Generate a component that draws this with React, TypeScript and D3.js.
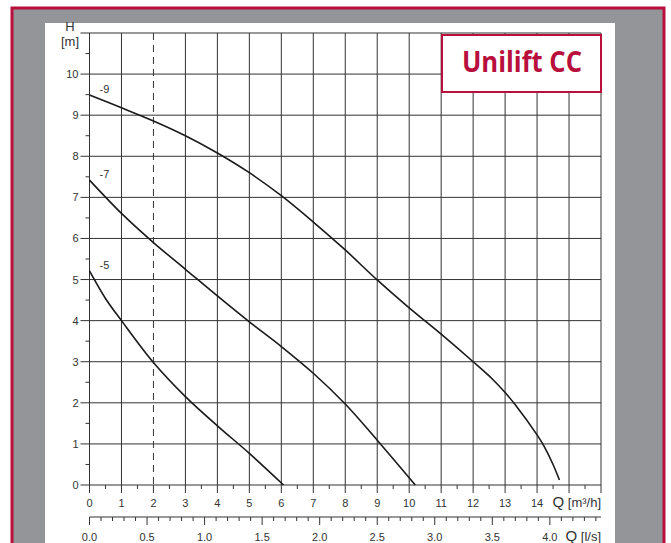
import React from "react";
import * as d3 from "d3";

// pump curves: Q in m3/h, H in m
const curve9Q = [0, 1, 2, 3, 4, 5, 6, 7, 8, 9, 10, 11, 12, 12.6, 13, 13.3, 14, 14.2, 14.5, 14.7];
const curve9H = [9.49, 9.18, 8.86, 8.5, 8.08, 7.6, 7.04, 6.4, 5.72, 4.99, 4.31, 3.67, 3.0, 2.58, 2.25, 1.97, 1.22, 0.97, 0.5, 0.12];
const curve7Q = [0, 1, 2, 3, 4, 5, 6, 7, 8, 9, 10.19];
const curve7H = [7.42, 6.61, 5.9, 5.25, 4.6, 3.97, 3.37, 2.72, 1.97, 1.09, 0];
const curve5Q = [0, 0.5, 1, 2, 3, 4, 5, 6.07];
const curve5H = [5.21, 4.54, 4.0, 2.98, 2.15, 1.44, 0.77, 0];

const curveNames = ["-9", "-7", "-5"];
const qTickLabels = [0, 1, 2, 3, 4, 5, 6, 7, 8, 9, 10, 11, 12, 13, 14];
const hTickLabels = [0, 1, 2, 3, 4, 5, 6, 7, 8, 9, 10];
const lsTickLabels = ["0.0", "0.5", "1.0", "1.5", "2.0", "2.5", "3.0", "3.5", "4.0"];
const dashedQ = 2;

const RED = "#b80f3d";
const GREY = "#939598";
const INK = "#333";

export default function App() {
  const width = 671, height = 543;
  const margin = { top: 33, right: 70, bottom: 58, left: 89.5 };

  const x = d3.scaleLinear().domain([0, 16]).range([margin.left, width - margin.right]);
  const y = d3.scaleLinear().domain([0, 11]).range([height - margin.bottom, margin.top]);
  // l/s axis shares the same pixels: 1 l/s = 3.6 m3/h
  const xls = d3.scaleLinear().domain([0, 16 / 3.6]).range(x.range());

  const line = d3
    .line<[number, number]>()
    .x(d => x(d[0]))
    .y(d => y(d[1]))
    .curve(d3.curveCatmullRom.alpha(0.5));

  const series = [
    curve9Q.map((q, i) => [q, curve9H[i]] as [number, number]),
    curve7Q.map((q, i) => [q, curve7H[i]] as [number, number]),
    curve5Q.map((q, i) => [q, curve5H[i]] as [number, number]),
  ];

  const x0 = x(0), x1 = x(16), y0 = y(0), y1 = y(11);
  const lsY = 517;

  const font = "'Liberation Sans', Arial, sans-serif";

  return (
    <svg width={width} height={height} style={{ display: "block", position: "absolute", left: 0, top: 0 }}>
      {/* frame */}
      <rect x={0} y={0} width={width} height={height} fill="#fff" />
      <rect x={12} y={8} width={652} height={560} fill={GREY} stroke={RED} strokeWidth={3} />
      <rect x={45} y={23} width={570} height={540} fill="#fff" />

      {/* grid */}
      <g stroke={INK} strokeWidth={1}>
        {d3.range(1, 17).filter(q => q !== dashedQ).map(q => (
          <line key={"v" + q} x1={x(q)} x2={x(q)} y1={y1} y2={y0} />
        ))}
        {d3.range(1, 12).map(h => (
          <line key={"h" + h} x1={x0 - 9} x2={x1} y1={y(h)} y2={y(h)} />
        ))}
        <line x1={x(dashedQ)} x2={x(dashedQ)} y1={y1} y2={y0} strokeDasharray="7,5" />
        {/* axes */}
        <line x1={x0} x2={x0} y1={y1} y2={y0 + 8} />
        <line x1={x0 - 9} x2={x1} y1={y0} y2={y0} />
        {/* minor ticks */}
        {d3.range(0.5, 11, 1).map(h => (
          <line key={"mh" + h} x1={x0 - 4} x2={x0} y1={y(h)} y2={y(h)} />
        ))}
        {d3.range(1, 17).map(q => (
          <line key={"mq" + q} x1={x(q)} x2={x(q)} y1={y0} y2={y0 + 8} />
        ))}
        {d3.range(0.5, 16, 1).map(q => (
          <line key={"hq" + q} x1={x(q)} x2={x(q)} y1={y0} y2={y0 + 4} />
        ))}
        {/* l/s axis */}
        <line x1={x0} x2={x1} y1={lsY} y2={lsY} />
        {d3.range(0, 45).map(i => (
          <line key={"ls" + i} x1={xls(i / 10)} x2={xls(i / 10)} y1={lsY} y2={lsY + (i % 5 === 0 ? 8 : 4)} />
        ))}
      </g>

      {/* curves */}
      <g fill="none" stroke="#1a1a1a" strokeWidth={1.6}>
        {series.map((s, i) => <path key={i} d={line(s) || ""} />)}
      </g>
      <g fontFamily={font} fontSize={11} fill={INK}>
        {series.map((s, i) => (
          <text key={i} x={x(0) + 10} y={y(s[0][1]) - 2}>{curveNames[i]}</text>
        ))}
      </g>

      {/* tick labels */}
      <g fontFamily={font} fontSize={11} fill={INK}>
        {hTickLabels.map(h => (
          <text key={h} x={x0 - 11} y={y(h) + 4} textAnchor="end">{h}</text>
        ))}
        {qTickLabels.map(q => (
          <text key={q} x={x(q)} y={507} textAnchor="middle">{q}</text>
        ))}
        {lsTickLabels.map(t => (
          <text key={t} x={xls(+t)} y={541} textAnchor="middle">{t}</text>
        ))}
        <text x={70} y={31} textAnchor="middle" fontSize={13}>H</text>
        <text x={70} y={46} textAnchor="middle" fontSize={13}>[m]</text>
        <text x={x1} y={507} textAnchor="end" fontSize={13}><tspan fontSize={15}>Q</tspan> [m³/h]</text>
        <text x={x1} y={541} textAnchor="end" fontSize={13}><tspan fontSize={15}>Q</tspan> [l/s]</text>
      </g>

      {/* title box */}
      <rect x={442} y={35} width={159} height={57} fill="#fff" stroke={RED} strokeWidth={2} />
      <text x={522} y={72} textAnchor="middle" fontFamily="'Open Sans', sans-serif" fontWeight={700}
        fontSize={29} fill={RED} textLength={120} lengthAdjust="spacingAndGlyphs">Unilift CC</text>
    </svg>
  );
}
